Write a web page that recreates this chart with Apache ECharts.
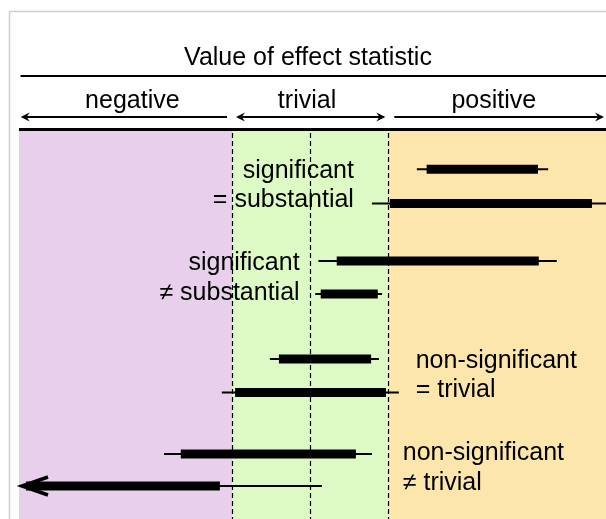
<!DOCTYPE html>
<html>

<head>
    <meta charset="UTF-8">
    <title>Value of effect statistic</title>
    <script src="https://cdn.jsdelivr.net/npm/echarts/dist/echarts.min.js"></script>
    <style>
        body { margin: 0; background: #fff; }
    </style>
</head>

<body>
    <div id="chart" style="width: 606px;height:519px;"></div>
    <script type="text/javascript">
        var myChart = echarts.init(document.getElementById('chart'));

        // axis range of the effect statistic and the trivial zone
        var xMin = -0.745, xMax = 0.757;
        var refLines = [-0.2, 0, 0.2];
        var zoneEdges = [xMin, -0.2, 0.2, xMax];
        var zoneNames = ['negative', 'trivial', 'positive'];
        var zoneColors = ['#e8d0ec', '#defac4', '#fde6ac'];

        // eight confidence intervals, top to bottom (row position in row units)
        var rowPos = [1.18, 2.24, 4.02, 5.04, 7.05, 8.09, 9.99, 10.98];
        var thinLo = [0.273, 0.158, 0.021, 0.013, -0.103, -0.226, -0.374, -0.80];
        var thinHi = [0.609, 0.80, 0.631, 0.184, 0.176, 0.227, 0.158, 0.030];
        var thickLo = [0.298, 0.204, 0.068, 0.027, -0.080, -0.192, -0.331, -0.80];
        var thickHi = [0.583, 0.721, 0.585, 0.173, 0.156, 0.194, 0.117, -0.231];

        var notes = ['significant', '= substantial', 'significant', '\u2260 substantial',
            'non-significant', '= trivial', 'non-significant', '\u2260 trivial'];

        var font = "'Liberation Sans', Arial, sans-serif";

        function arrowHead(x, y, dir, len, half) {
            // small filled arrow head, dir = -1 points left, 1 points right
            return {
                type: 'polygon',
                shape: { points: [[x, y], [x - dir * len, y - half], [x - dir * len * 0.65, y], [x - dir * len, y + half]] },
                style: { fill: '#000' }
            };
        }

        var option = {
            animation: false,
            grid: { left: 19, right: 0, top: 131, bottom: 0 },
            xAxis: { type: 'value', min: xMin, max: xMax, show: false },
            yAxis: { type: 'value', min: 0, max: 12, inverse: true, show: false },
            graphic: [
                { type: 'polyline', shape: { points: [[9.5, 519], [9.5, 11.5], [606, 11.5]] }, style: { stroke: '#cfcfcf', lineWidth: 1.5, fill: null } },
                { type: 'text', x: 308, y: 58, style: { text: 'Value of effect statistic', font: '25px ' + font, fill: '#000', textAlign: 'center', textVerticalAlign: 'middle' } },
                { type: 'line', shape: { x1: 20.5, y1: 76, x2: 606, y2: 76 }, style: { stroke: '#000', lineWidth: 2 } },
                { type: 'line', shape: { x1: 19, y1: 129.5, x2: 606, y2: 129.5 }, style: { stroke: '#000', lineWidth: 3 } }
            ],
            series: [
                {
                    // coloured zones
                    name: 'zones',
                    type: 'custom',
                    data: [0, 1, 2],
                    renderItem: function (params, api) {
                        var i = params.dataIndex;
                        var cs = params.coordSys;
                        var a = api.coord([zoneEdges[i], 0])[0];
                        var b = api.coord([zoneEdges[i + 1], 0])[0];
                        return {
                            type: 'rect',
                            shape: { x: a, y: cs.y, width: b - a, height: cs.height },
                            style: { fill: zoneColors[i] }
                        };
                    }
                },
                {
                    // header arrows and zone names
                    name: 'header',
                    type: 'custom',
                    clip: false,
                    data: [0, 1, 2],
                    renderItem: function (params, api) {
                        var i = params.dataIndex;
                        var cs = params.coordSys;
                        var heads = ['left', 'both', 'right'][i];
                        var labelX = [-0.455, -0.008, 0.47][i];
                        var y = cs.y - 14;
                        var a = i === 0 ? cs.x + 1.7 : api.coord([zoneEdges[i], 0])[0] + 4;
                        var b = i === 2 ? cs.x + cs.width - 2 : api.coord([zoneEdges[i + 1], 0])[0] - 3;
                        var children = [
                            { type: 'line', shape: { x1: a + 2, y1: y, x2: b - 2, y2: y }, style: { stroke: '#000', lineWidth: 2 } },
                            {
                                type: 'text', x: api.coord([labelX, 0])[0], y: cs.y - 30,
                                style: { text: zoneNames[i], font: '25px ' + font, fill: '#000', textAlign: 'center', textVerticalAlign: 'middle' }
                            }
                        ];
                        if (heads === 'left' || heads === 'both') children.push(arrowHead(a, y, -1, 9, 4.5));
                        if (heads === 'right' || heads === 'both') children.push(arrowHead(b, y, 1, 9, 4.5));
                        return { type: 'group', children: children };
                    }
                },
                {
                    // explanatory notes
                    name: 'notes',
                    type: 'custom',
                    clip: false,
                    data: [
                        [0.112, 1.25, 'right'], [0.112, 2.15, 'right'],
                        [-0.027, 4.08, 'right'], [-0.027, 5.01, 'right'],
                        [0.270, 7.11, 'left'], [0.270, 8.01, 'left'],
                        [0.237, 9.96, 'left'], [0.237, 10.89, 'left']
                    ],
                    renderItem: function (params, api) {
                        var i = params.dataIndex;
                        var p = api.coord([api.value(0), api.value(1)]);
                        var align = option.series[2].data[i][2];
                        return {
                            type: 'text', x: p[0], y: p[1],
                            style: { text: notes[i], font: '25px ' + font, fill: '#000', textAlign: align, textVerticalAlign: 'middle' }
                        };
                    }
                },
                {
                    // dashed reference lines
                    name: 'ref',
                    type: 'custom',
                    data: refLines,
                    renderItem: function (params, api) {
                        var cs = params.coordSys;
                        var x = Math.round(api.coord([refLines[params.dataIndex], 0])[0]) + 0.5;
                        return {
                            type: 'line',
                            shape: { x1: x, y1: cs.y + 2, x2: x, y2: cs.y + cs.height },
                            style: { stroke: '#000', lineWidth: 1.2, lineDash: [5, 3] }
                        };
                    }
                },
                {
                    // confidence intervals
                    name: 'intervals',
                    type: 'custom',
                    data: rowPos.map(function (y, i) { return [thinLo[i], y]; }),
                    renderItem: function (params, api) {
                        var i = params.dataIndex;
                        var cs = params.coordSys;
                        var y = api.coord([0, rowPos[i]])[1];
                        function px(v) {
                            return Math.max(cs.x, Math.min(cs.x + cs.width, api.coord([v, 0])[0]));
                        }
                        var openLeft = thinLo[i] < xMin;
                        var tip = cs.x + 3;
                        var x0 = openLeft ? tip : px(thinLo[i]);
                        var x1 = px(thinHi[i]);
                        var t0 = thickLo[i] < xMin ? tip + 4 : px(thickLo[i]);
                        var t1 = px(thickHi[i]);
                        var children = [
                            { type: 'line', shape: { x1: x0, y1: y, x2: x1, y2: y }, style: { stroke: '#000', lineWidth: 2 } },
                            { type: 'rect', shape: { x: t0, y: y - 4.5, width: t1 - t0, height: 9 }, style: { fill: '#000' } }
                        ];
                        if (openLeft) {
                            children.push({
                                type: 'polyline',
                                shape: { points: [[tip + 26, y - 9], [tip, y], [tip + 26, y + 9]] },
                                style: { stroke: '#000', lineWidth: 3.5, fill: null }
                            });
                        }
                        return { type: 'group', children: children };
                    }
                }
            ]
        };

        myChart.setOption(option);
    </script>
</body>

</html>
